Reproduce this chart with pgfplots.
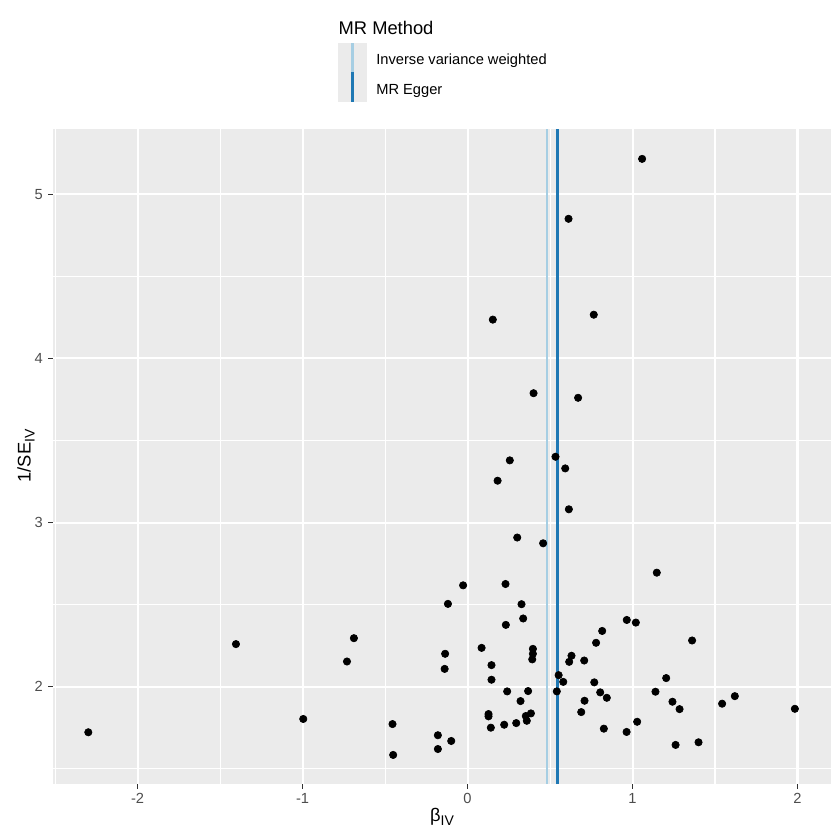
\documentclass[border=0pt]{standalone}
\usepackage{pgfplots}
\pgfplotsset{compat=1.18}
\usepackage{fontspec}
\setmainfont{Liberation Sans}
\definecolor{panelbg}{HTML}{EBEBEB}
\definecolor{tickgrey}{HTML}{4D4D4D}
\definecolor{tickline}{HTML}{333333}
\definecolor{ivwcol}{HTML}{A6CEE3}
\definecolor{eggercol}{HTML}{1F78B4}
\begin{document}
\begin{tikzpicture}
\path[use as bounding box] (0,0) rectangle (504pt,504pt);
\begin{axis}[
  at={(31.8pt,33.6pt)}, anchor=south west,
  scale only axis, width=466.8pt, height=393pt,
  xmin=-2.513, xmax=2.203, ymin=1.408, ymax=5.397,
  axis background/.style={fill=panelbg},
  axis line style={draw=none},
  xtick={-2,-1,0,1,2}, ytick={2,3,4,5},
  minor xtick={-2.5,-1.5,-0.5,0.5,1.5},
  minor ytick={1.5,2.5,3.5,4.5},
  grid=both,
  major grid style={white, line width=1.25pt},
  minor grid style={white, line width=0.65pt},
  tick align=outside, tick pos=left,
  major tick length=2.75pt, minor tick length=0pt,
  every tick/.style={tickline, line width=0.7pt},
  /pgf/number format/assume math mode=true,
  ticklabel style={font=\fontsize{8.8}{10}\selectfont, text=tickgrey, inner sep=0pt},
  xticklabel style={anchor=north, yshift=-2.85pt},
  yticklabel style={anchor=east, xshift=-3.25pt},
  clip=true,
]
\addplot[only marks, mark=*, mark size=2.2pt, black] coordinates {
(1.058,5.215) (0.612,4.850) (0.153,4.236) (0.765,4.266) (0.400,3.788)
(0.670,3.760) (0.256,3.379) (0.533,3.401) (0.592,3.330) (0.182,3.255)
(0.614,3.081) (0.301,2.909) (0.458,2.874) (-0.027,2.618) (0.230,2.626)
(1.147,2.695) (-0.119,2.505) (0.327,2.503) (0.337,2.416) (0.232,2.377)
(0.965,2.407) (1.020,2.391) (0.816,2.340) (1.361,2.282) (0.779,2.268)
(0.085,2.237) (0.396,2.231) (-0.136,2.201) (0.396,2.201) (0.392,2.167)
(0.630,2.189) (0.616,2.152) (0.707,2.160) (0.145,2.132) (-0.139,2.109)
(0.145,2.043) (0.552,2.071) (0.580,2.030) (0.768,2.027) (1.204,2.053)
(0.240,1.972) (0.367,1.974) (0.541,1.972) (0.804,1.966) (0.844,1.933)
(1.139,1.970) (0.321,1.913) (0.709,1.915) (1.242,1.909) (1.285,1.864)
(0.689,1.846) (0.127,1.834) (0.127,1.820) (0.384,1.838) (0.353,1.822)
(0.359,1.793) (-0.455,1.773) (0.222,1.769) (0.295,1.779) (0.141,1.751)
(0.826,1.745) (1.028,1.787) (0.964,1.725) (-0.180,1.705) (-0.099,1.670)
(-0.180,1.621) (-0.451,1.585) (1.261,1.646) (1.400,1.662) (-2.299,1.723)
(-1.404,2.260) (-0.689,2.296) (-0.731,2.154) (-0.996,1.804) (1.543,1.897)
(1.620,1.943) (1.984,1.866)
};
\addplot[draw=ivwcol, line width=1.3pt] coordinates {(0.479,1.408) (0.479,5.397)};
\addplot[draw=eggercol, line width=1.3pt] coordinates {(0.545,1.408) (0.545,5.397)};
\end{axis}
% axis titles
\node[anchor=base, inner sep=0pt, font=\fontsize{11}{13}\selectfont] at (265.2pt,10.8pt)
  {β\raisebox{-2.4pt}{\fontsize{8.4}{10}\selectfont IV}};
\node[anchor=base, inner sep=0pt, rotate=90, font=\fontsize{11}{13}\selectfont] at (18.3pt,230.4pt)
  {1/SE\raisebox{-2.4pt}{\fontsize{8.4}{10}\selectfont IV}};
% legend
\node[anchor=base west, inner sep=0pt, font=\fontsize{11}{13}\selectfont] at (203pt,483pt) {MR Method};
\fill[panelbg] (203pt,443pt) rectangle (220pt,478pt);
\draw[ivwcol, line width=1.3pt] (211.5pt,460.5pt) -- (211.5pt,478pt);
\draw[eggercol, line width=1.3pt] (211.5pt,443pt) -- (211.5pt,460.5pt);
\node[anchor=base west, inner sep=0pt, font=\fontsize{8.8}{10}\selectfont] at (225.6pt,465pt) {Inverse variance weighted};
\node[anchor=base west, inner sep=0pt, font=\fontsize{8.8}{10}\selectfont] at (225.6pt,447pt) {MR Egger};
\end{tikzpicture}
\end{document}
